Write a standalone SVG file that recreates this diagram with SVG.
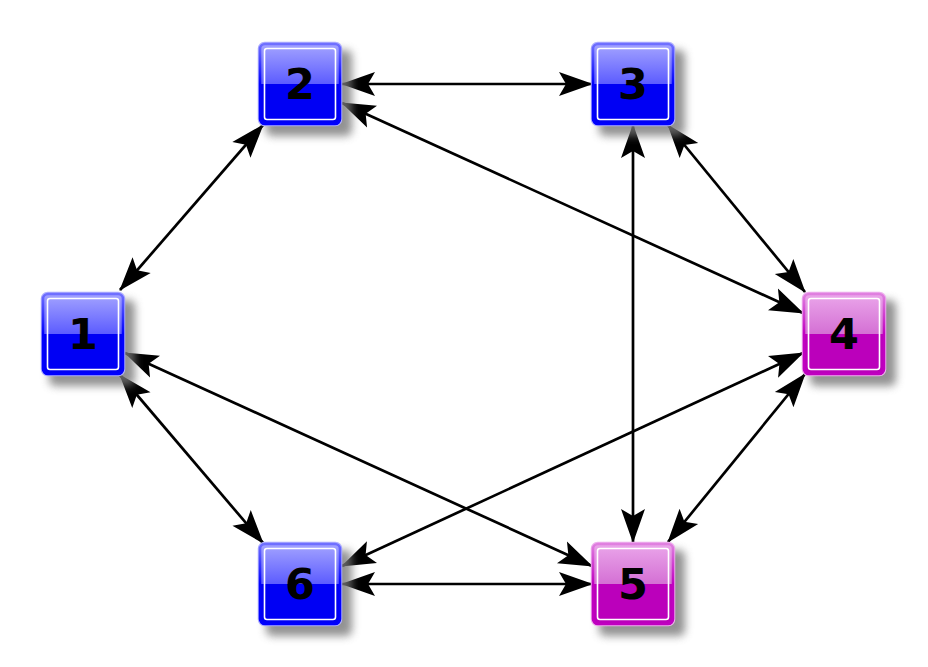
<svg xmlns="http://www.w3.org/2000/svg" xmlns:xlink="http://www.w3.org/1999/xlink" width="928" height="667" viewBox="0 0 928 667">
  <style>
    .edge { stroke: #000; stroke-width: 2.7; fill: none; marker-start: url(#ah); marker-end: url(#ah); }
    .lbl { font-family: "DejaVu Sans", "Liberation Sans", sans-serif; font-weight: bold; font-size: 43px; fill: #000; text-anchor: middle; }
    .inner { fill: none; stroke: #fff; stroke-width: 1.6; }
    .halo { fill: none; stroke-width: 1.5; }
  </style>
  <defs>
    <marker id="ah" markerUnits="userSpaceOnUse" viewBox="-34 -13 35 26" refX="0" refY="0" markerWidth="35" markerHeight="26" orient="auto-start-reverse" overflow="visible">
      <path d="M1,0 L-33,-12 L-26,0 L-33,12 Z" fill="#000"/>
    </marker>
    <filter id="sh" x="-30%" y="-30%" width="160%" height="160%">
      <feGaussianBlur stdDeviation="4"/>
    </filter>
    <linearGradient id="gb" x1="0" y1="0" x2="0" y2="1">
      <stop offset="0" stop-color="#a4a4ff"/>
      <stop offset="0.5" stop-color="#5c5cff"/>
      <stop offset="0.5" stop-color="#0000f4"/>
      <stop offset="1" stop-color="#0000f4"/>
    </linearGradient>
    <linearGradient id="gbs" x1="0" y1="0" x2="0" y2="1">
      <stop offset="0" stop-color="#7070ff"/>
      <stop offset="0.5" stop-color="#0000ff"/>
      <stop offset="1" stop-color="#0000ff"/>
    </linearGradient>
    <linearGradient id="gm" x1="0" y1="0" x2="0" y2="1">
      <stop offset="0" stop-color="#eaa6ea"/>
      <stop offset="0.5" stop-color="#d470d4"/>
      <stop offset="0.5" stop-color="#bb00bb"/>
      <stop offset="1" stop-color="#bb00bb"/>
    </linearGradient>
    <linearGradient id="gms" x1="0" y1="0" x2="0" y2="1">
      <stop offset="0" stop-color="#e080e0"/>
      <stop offset="0.5" stop-color="#c000c0"/>
      <stop offset="1" stop-color="#c000c0"/>
    </linearGradient>
    <g id="shadow">
      <rect x="-34" y="-34" width="86" height="86" rx="6" fill="#777" opacity="0.8" filter="url(#sh)"/>
    </g>
    <g id="nb">
      <use xlink:href="#shadow"/>
      <rect x="-41.5" y="-41.5" width="83" height="83" rx="6" fill="#fff" class="halo" stroke="#b0b0ff"/>
      <rect x="-40" y="-40" width="80" height="80" rx="5" fill="url(#gb)" stroke="url(#gbs)" stroke-width="2.6"/>
      <rect x="-35.5" y="-35.5" width="71" height="71" rx="2.5" class="inner"/>
    </g>
    <g id="nm">
      <use xlink:href="#shadow"/>
      <rect x="-41.5" y="-41.5" width="83" height="83" rx="6" fill="#fff" class="halo" stroke="#eeb0ee"/>
      <rect x="-40" y="-40" width="80" height="80" rx="5" fill="url(#gm)" stroke="url(#gms)" stroke-width="2.6"/>
      <rect x="-35.5" y="-35.5" width="71" height="71" rx="2.5" class="inner"/>
    </g>
  </defs>
  <rect width="928" height="667" fill="#fff"/>
  <g id="edges">
    <line class="edge" x1="120" y1="290" x2="263" y2="125"/>
    <line class="edge" x1="342" y1="84" x2="592" y2="84"/>
    <line class="edge" x1="342" y1="103" x2="803" y2="313"/>
    <line class="edge" x1="668" y1="125" x2="805" y2="292"/>
    <line class="edge" x1="633" y1="125" x2="633" y2="542"/>
    <line class="edge" x1="125" y1="353" x2="592" y2="566"/>
    <line class="edge" x1="120" y1="375" x2="263" y2="543"/>
    <line class="edge" x1="803" y1="353" x2="342" y2="566"/>
    <line class="edge" x1="805" y1="374" x2="668" y2="542"/>
    <line class="edge" x1="342" y1="584" x2="592" y2="584"/>
  </g>
  <g id="node1" transform="translate(83,334)"><use xlink:href="#nb"/><text class="lbl" x="0" y="15">1</text></g>
  <g id="node2" transform="translate(300,84)"><use xlink:href="#nb"/><text class="lbl" x="0" y="15">2</text></g>
  <g id="node3" transform="translate(633,84)"><use xlink:href="#nb"/><text class="lbl" x="0" y="15">3</text></g>
  <g id="node4" transform="translate(844,334)"><use xlink:href="#nm"/><text class="lbl" x="0" y="15">4</text></g>
  <g id="node5" transform="translate(633,584)"><use xlink:href="#nm"/><text class="lbl" x="0" y="15">5</text></g>
  <g id="node6" transform="translate(300,584)"><use xlink:href="#nb"/><text class="lbl" x="0" y="15">6</text></g>
</svg>
